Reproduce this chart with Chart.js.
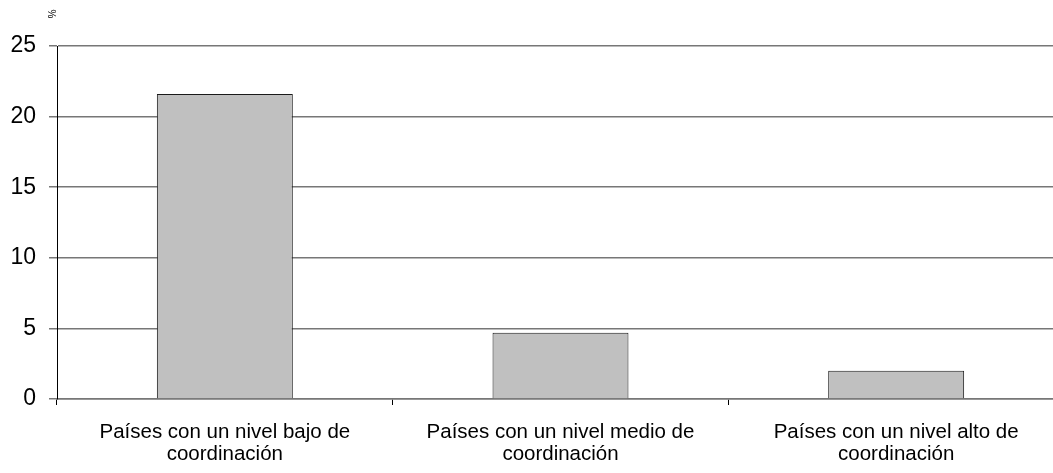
<!DOCTYPE html>
<html>
<head>
<meta charset="utf-8">
<script src="https://cdn.jsdelivr.net/npm/chart.js@4.4.1/dist/chart.umd.min.js"></script>
<style>
  html, body { margin: 0; padding: 0; background: #fff; overflow: hidden; }
  #wrap { position: relative; width: 1070px; height: 473px; }
</style>
</head>
<body>
<div id="wrap"><canvas id="c"></canvas></div>
<script>
const categories = [
  ["Países con un nivel bajo de", "coordinación"],
  ["Países con un nivel medio de", "coordinación"],
  ["Países con un nivel alto de", "coordinación"]
];
const values = [21.6, 4.7, 2.0];
const yTicks = [0, 5, 10, 15, 20, 25];
const unitLabel = "%";

const FONT = "'Liberation Sans', Arial, Helvetica, sans-serif";

const unitPlugin = {
  id: 'unitLabel',
  afterDraw(chart) {
    const ctx = chart.ctx;
    ctx.save();
    ctx.font = "10px " + FONT;
    ctx.fillStyle = '#000';
    ctx.translate(51, 14);
    ctx.rotate(Math.PI / 2);
    ctx.textAlign = 'center';
    ctx.textBaseline = 'middle';
    ctx.fillText(unitLabel, 0, 0);
    ctx.restore();
  }
};

new Chart(document.getElementById('c'), {
  type: 'bar',
  data: {
    labels: categories,
    datasets: [{
      data: values,
      backgroundColor: '#c0c0c0',
      borderColor: '#1a1a1a',
      borderWidth: 1,
      categoryPercentage: 1,
      barPercentage: 0.405
    }]
  },
  options: {
    responsive: true,
    maintainAspectRatio: false,
    animation: false,
    layout: { padding: { top: 46, right: 6, left: 0, bottom: 0 } },
    plugins: { legend: { display: false }, tooltip: { enabled: false } },
    scales: {
      x: {
        offset: true,
        grid: {
          offset: true,
          drawOnChartArea: false,
          drawTicks: true,
          tickLength: 6,
          tickColor: '#000'
        },
        border: { display: true, color: '#777', width: 1.5 },
        ticks: {
          color: '#000',
          font: { family: FONT, size: 20.5, lineHeight: 1.08 },
          padding: 16,
          maxRotation: 0,
          autoSkip: false
        },
        afterFit(scale) { scale.height = 74; }
      },
      y: {
        min: 0,
        max: 25,
        afterBuildTicks(scale) { scale.ticks = yTicks.map(v => ({ value: v })); },
        grid: {
          color: '#777',
          lineWidth: 1.5,
          tickLength: 8,
          tickColor: '#777'
        },
        border: { display: true, color: '#000', width: 1 },
        ticks: {
          color: '#000',
          font: { family: FONT, size: 23 },
          padding: 13
        },
        afterFit(scale) { scale.width = 57; }
      }
    }
  },
  plugins: [unitPlugin]
});
</script>
</body>
</html>
